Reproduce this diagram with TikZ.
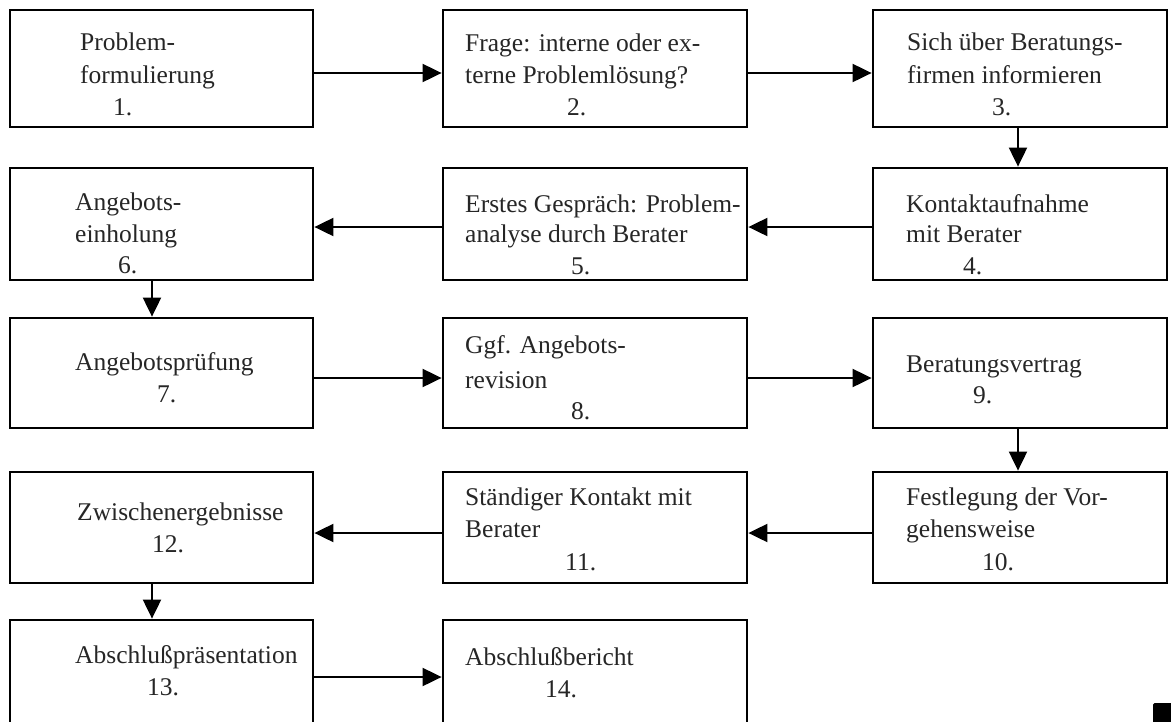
\documentclass[tikz,border=0pt]{standalone}
\usepackage{fontspec}
\setmainfont{Liberation Serif}
\usetikzlibrary{arrows.meta}
\tikzset{
  box/.style={draw=black, line width=2.8pt, rectangle, inner sep=0pt, fill=white},
  txt/.style={anchor=base west, inner sep=0pt, text=black!85, font=\fontsize{25.5}{30}\selectfont},
  arr/.style={line width=2pt, -{Triangle[length=19pt,width=18pt]}},
}
\begin{document}
\begin{tikzpicture}[x=1pt,y=-1pt]
\useasboundingbox (0,0) rectangle (1171,721);
\clip (0,0) rectangle (1171,721);
\fill[white] (0,0) rectangle (1171,721);
% boxes
\node[box, minimum width=303pt, minimum height=117pt] (b1) at (161.5,68.5) {};
\node[box, minimum width=304pt, minimum height=117pt] (b2) at (595,68.5) {};
\node[box, minimum width=294pt, minimum height=117pt] (b3) at (1020,68.5) {};
\node[box, minimum width=303pt, minimum height=112pt] (b6) at (161.5,224) {};
\node[box, minimum width=304pt, minimum height=112pt] (b5) at (595,224) {};
\node[box, minimum width=294pt, minimum height=112pt] (b4) at (1020,224) {};
\node[box, minimum width=303pt, minimum height=110pt] (b7) at (161.5,373) {};
\node[box, minimum width=304pt, minimum height=110pt] (b8) at (595,373) {};
\node[box, minimum width=294pt, minimum height=110pt] (b9) at (1020,373) {};
\node[box, minimum width=303pt, minimum height=111pt] (b12) at (161.5,527.5) {};
\node[box, minimum width=304pt, minimum height=111pt] (b11) at (595,527.5) {};
\node[box, minimum width=294pt, minimum height=111pt] (b10) at (1020,527.5) {};
\node[box, minimum width=303pt, minimum height=114pt] (b13) at (161.5,677) {};
\node[box, minimum width=304pt, minimum height=114pt] (b14) at (595,677) {};
% texts
\node[txt] (t1a) at (80,50) {Problem-};
\node[txt] (t1b) at (80,83) {formulierung};
\node[txt] (t1c) at (113,115) {1.};
\node[txt] (t2a) at (465,51) {Frage: interne oder ex-};
\node[txt] (t2b) at (465,83) {terne Problemlösung?};
\node[txt] (t2c) at (567,115) {2.};
\node[txt] (t3a) at (907,50) {Sich über Beratungs-};
\node[txt] (t3b) at (907,83) {firmen informieren};
\node[txt] (t3c) at (992,115) {3.};
\node[txt] (t6a) at (75,210) {Angebots-};
\node[txt] (t6b) at (75,242) {einholung};
\node[txt] (t6c) at (118,273) {6.};
\node[txt] (t5a) at (465,212) {Erstes Gespräch: Problem-};
\node[txt] (t5b) at (465,242) {analyse durch Berater};
\node[txt] (t5c) at (571,274) {5.};
\node[txt] (t4a) at (906,212) {Kontaktaufnahme};
\node[txt] (t4b) at (906,242) {mit Berater};
\node[txt] (t4c) at (963,274) {4.};
\node[txt] (t7a) at (75,370) {Angebotsprüfung};
\node[txt] (t7b) at (157,402) {7.};
\node[txt] (t8a) at (465,353) {Ggf. Angebots-};
\node[txt] (t8b) at (465,388) {revision};
\node[txt] (t8c) at (571,419) {8.};
\node[txt] (t9a) at (906,372) {Beratungsvertrag};
\node[txt] (t9b) at (973,403) {9.};
\node[txt] (t12a) at (77,520) {Zwischenergebnisse};
\node[txt] (t12b) at (152,552) {12.};
\node[txt] (t11a) at (465,505) {Ständiger Kontakt mit};
\node[txt] (t11b) at (465,537) {Berater};
\node[txt] (t11c) at (565,570) {11.};
\node[txt] (t10a) at (906,505) {Festlegung der Vor-};
\node[txt] (t10b) at (906,537) {gehensweise};
\node[txt] (t10c) at (982,570) {10.};
\node[txt] (t13a) at (75,663) {Abschlußpräsentation};
\node[txt] (t13b) at (147,695) {13.};
\node[txt] (t14a) at (465,665) {Abschlußbericht};
\node[txt] (t14b) at (545,697) {14.};
% connectors
\draw[arr] ([yshift=-4.5pt]b1.east) -- ([yshift=-4.5pt]b2.west);
\draw[arr] ([yshift=-4.5pt]b2.east) -- ([yshift=-4.5pt]b3.west);
\draw[arr] ([xshift=-2pt]b3.south) -- ([xshift=-2pt]b4.north);
\draw[arr] ([yshift=-3pt]b4.west) -- ([yshift=-3pt]b5.east);
\draw[arr] ([yshift=-3pt]b5.west) -- ([yshift=-3pt]b6.east);
\draw[arr] ([xshift=-9.5pt]b6.south) -- ([xshift=-9.5pt]b7.north);
\draw[arr] ([yshift=-5pt]b7.east) -- ([yshift=-5pt]b8.west);
\draw[arr] ([yshift=-5pt]b8.east) -- ([yshift=-5pt]b9.west);
\draw[arr] ([xshift=-2pt]b9.south) -- ([xshift=-2pt]b10.north);
\draw[arr] ([yshift=-5.5pt]b10.west) -- ([yshift=-5.5pt]b11.east);
\draw[arr] ([yshift=-5.5pt]b11.west) -- ([yshift=-5.5pt]b12.east);
\draw[arr] ([xshift=-9.5pt]b12.south) -- ([xshift=-9.5pt]b13.north);
\draw[arr] (b13.east) -- (b14.west);
% end mark
\fill[black, rounded corners=1.5pt] (1153,703) rectangle (1175,725);
\end{tikzpicture}
\end{document}
